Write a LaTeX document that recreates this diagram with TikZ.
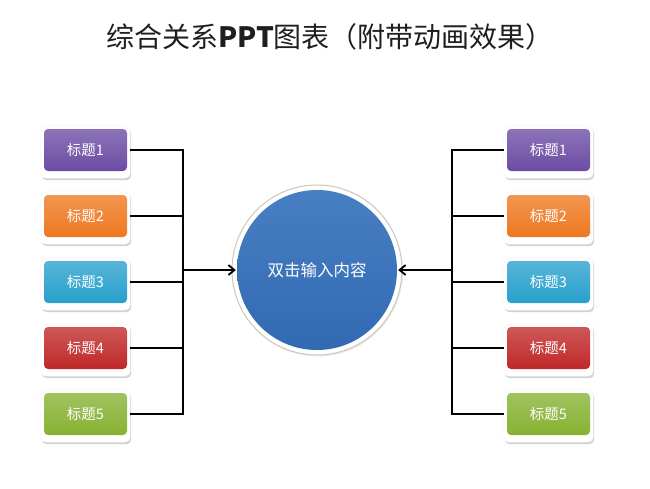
\documentclass[tikz,border=0pt]{standalone}
\usepackage{fontspec}
\setmainfont{Noto Sans CJK SC}
\usetikzlibrary{arrows.meta,shadows}
\definecolor{cpurple}{HTML}{6C4CA4}
\definecolor{corange}{HTML}{EE7820}
\definecolor{ccyan}{HTML}{28A0CC}
\definecolor{cred}{HTML}{C02828}
\definecolor{cgreen}{HTML}{86B232}
\definecolor{cblue}{HTML}{3470BC}
\tikzset{
  tbox/.style={rounded corners=4pt, minimum width=83pt, minimum height=42pt,
    inner sep=0pt, text=white, font=\fontsize{14.5}{14.5}\selectfont},
  tframe/.style={fill=white, rounded corners=5pt, draw=gray!8, line width=0.4pt,
    drop shadow={opacity=0.35, shadow xshift=1pt, shadow yshift=-2pt}},
  conn/.style={line width=2pt, black},
  arr/.style={conn, -{Straight Barb[length=6pt,width=10pt,line width=1.8pt]}},
}
\newcommand{\tb}[4]{%
  \node[tbox, top color=#3!78!white, bottom color=#3] (#1) at (#2) {#4};
  \begin{pgfonlayer}{background}
    \path[tframe] ([shift={(-3pt,3pt)}]#1.north west) rectangle ([shift={(3pt,-7pt)}]#1.south east);
  \end{pgfonlayer}}
\pgfdeclarelayer{background}
\pgfsetlayers{background,main}
\begin{document}
\begin{tikzpicture}[x=1pt,y=-1pt]
\begin{pgfonlayer}{background}
\fill[white] (0,0) rectangle (650,488);
\end{pgfonlayer}
\useasboundingbox (0,0) rectangle (650,488);
\node[font=\fontsize{28}{28}\selectfont, text=black!88] (title) at (330,37) {综合关系{\bfseries PPT}图表（附带动画效果）};
% left boxes
\tb{l1}{85.5,150}{cpurple}{标题1}
\tb{l2}{85.5,216}{corange}{标题2}
\tb{l3}{85.5,282}{ccyan}{标题3}
\tb{l4}{85.5,348}{cred}{标题4}
\tb{l5}{85.5,414}{cgreen}{标题5}
% right boxes
\tb{r1}{548.5,150}{cpurple}{标题1}
\tb{r2}{548.5,216}{corange}{标题2}
\tb{r3}{548.5,282}{ccyan}{标题3}
\tb{r4}{548.5,348}{cred}{标题4}
\tb{r5}{548.5,414}{cgreen}{标题5}
% circle
\node[circle, minimum size=170pt, fill=white, draw=brown!30!gray!45, line width=1pt,
  drop shadow={opacity=0.15, shadow xshift=1pt, shadow yshift=-1.5pt}] (c) at (317,270) {};
\node[circle, minimum size=160pt, inner sep=0pt, top color=cblue!90!white, bottom color=cblue!95!black,
  text=white, font=\fontsize{16.5}{16.5}\selectfont] (ci) at (c.center) {双击输入内容};
% connectors
\coordinate (lv) at (183,270);
\coordinate (rv) at (452,270);
\foreach \i in {1,...,5} {
  \draw[conn] ([xshift=3pt]l\i.east) -- (l\i.east -| lv);
  \draw[conn] ([xshift=-3pt]r\i.west) -- (r\i.west -| rv);
}
\draw[conn, line cap=rect] (l1.east -| lv) -- (l5.east -| lv);
\draw[conn, line cap=rect] (r1.west -| rv) -- (r5.west -| rv);
\draw[arr] (lv) -- ([xshift=-1pt]ci.west);
\draw[arr] (rv) -- ([xshift=1pt]ci.east);
\end{tikzpicture}
\end{document}
